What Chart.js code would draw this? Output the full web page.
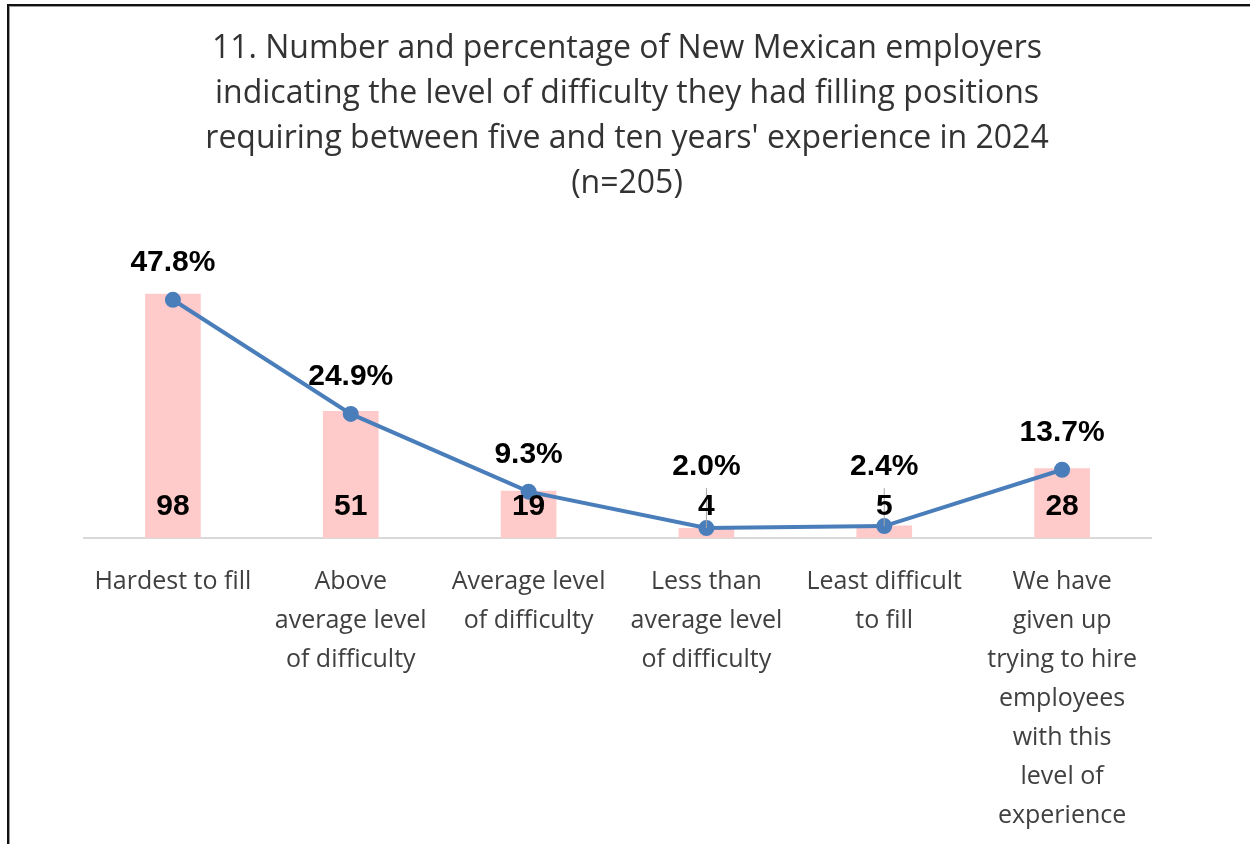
<!DOCTYPE html>
<html>
<head>
<meta charset="utf-8">
<title>Difficulty filling positions, 5-10 years' experience</title>
<script src="https://cdn.jsdelivr.net/npm/chart.js@4.4.1/dist/chart.umd.min.js"></script>
<style>
    html, body { margin: 0; padding: 0; background: #fff; }
    #wrap { position: relative; width: 1250px; height: 844px; overflow: hidden; }
    #frame {
        position: absolute; left: 7px; top: 4px; right: -10px; bottom: -10px;
        border-top: 2px solid #111; border-left: 2px solid #111;
        box-shadow: inset 1px 1px 0 #9a9a9a;
        pointer-events: none;
    }
</style>
</head>
<body>
<div id="wrap">
    <canvas id="difficultyChart" width="1250" height="844"></canvas>
    <div id="frame"></div>
</div>
<script>
// Categorías (etiquetas del eje x, ya partidas en líneas)
const categorias = [
    'Hardest to fill',
    ['Above', 'average level', 'of difficulty'],
    ['Average level', 'of difficulty'],
    ['Less than', 'average level', 'of difficulty'],
    ['Least difficult', 'to fill'],
    ['We have', 'given up', 'trying to hire', 'employees', 'with this', 'level of', 'experience']
];

// Número de empleadores por categoría (barras)
const empleadores = [98, 51, 19, 4, 5, 28];

// Porcentaje del total (línea)
const porcentajes = [47.8, 24.9, 9.3, 2.0, 2.4, 13.7];

const titulo = [
    '11. Number and percentage of New Mexican employers',
    'indicating the level of difficulty they had filling positions',
    "requiring between five and ten years' experience in 2024",
    '(n=205)'
];

// Etiquetas de valores: números al pie de cada barra, porcentajes sobre cada punto
const etiquetasPlugin = {
    id: 'etiquetas',
    afterDatasetsDraw(chart) {
        const ctx = chart.ctx;
        const barras = chart.getDatasetMeta(1);
        const linea = chart.getDatasetMeta(0);
        ctx.save();
        ctx.font = 'bold 30px "Liberation Sans", Arial, sans-serif';
        ctx.textAlign = 'center';
        ctx.textBaseline = 'middle';

        barras.data.forEach(function(bar, i) {
            const yNum = bar.base - 31;
            const p = linea.data[i];
            let yPct = p.y - 37;
            const limite = yNum - 40;
            if (yPct > limite) {
                // etiqueta desplazada: línea guía hasta el punto
                yPct = limite;
                ctx.strokeStyle = '#a6a6a6';
                ctx.lineWidth = 1;
                ctx.beginPath();
                ctx.moveTo(p.x, yPct + 21);
                ctx.lineTo(p.x, p.y);
                ctx.stroke();
            }
            ctx.fillStyle = '#000';
            ctx.fillText(empleadores[i], bar.x, yNum);
            ctx.fillText(porcentajes[i].toFixed(1) + '%', p.x, yPct);
        });
        ctx.restore();
    }
};

const ctx = document.getElementById('difficultyChart').getContext('2d');
new Chart(ctx, {
    data: {
        labels: categorias,
        datasets: [{
            type: 'line',
            label: 'Percent',
            data: porcentajes,
            yAxisID: 'yPct',
            borderColor: '#4A7EBB',
            backgroundColor: '#4A7EBB',
            borderWidth: 4,
            pointRadius: 6,
            pointHoverRadius: 6,
            tension: 0,
            order: 0
        }, {
            type: 'bar',
            label: 'Number',
            data: empleadores,
            yAxisID: 'yNum',
            backgroundColor: '#FFCACA',
            barPercentage: 0.313,
            categoryPercentage: 1,
            order: 1
        }]
    },
    options: {
        responsive: false,
        animation: false,
        layout: {
            padding: { left: 84, right: 80, top: 0, bottom: 9 }
        },
        plugins: {
            legend: { display: false },
            tooltip: { enabled: false },
            title: {
                display: true,
                text: titulo,
                color: '#333333',
                font: { family: '"Open Sans", sans-serif', size: 32, weight: 'normal', lineHeight: 45 / 32 },
                padding: { top: 26, bottom: 33 }
            }
        },
        scales: {
            x: {
                grid: { display: false, drawTicks: false },
                border: { display: true, color: '#d9d9d9', width: 2 },
                ticks: {
                    color: '#404040',
                    padding: 24,
                    maxRotation: 0,
                    autoSkip: false,
                    font: { family: '"Open Sans", sans-serif', size: 25, lineHeight: 39 / 25 }
                },
                afterFit: function(scale) { scale.height = 297; }
            },
            yNum: {
                display: false,
                position: 'left',
                min: 0,
                max: 120
            },
            yPct: {
                display: true,
                position: 'right',
                min: 0,
                max: 60,
                grid: { display: false, drawTicks: false },
                border: { display: false },
                ticks: { display: false },
                afterFit: function(scale) { scale.width = 19; }
            }
        }
    },
    plugins: [etiquetasPlugin]
});
</script>
</body>
</html>
